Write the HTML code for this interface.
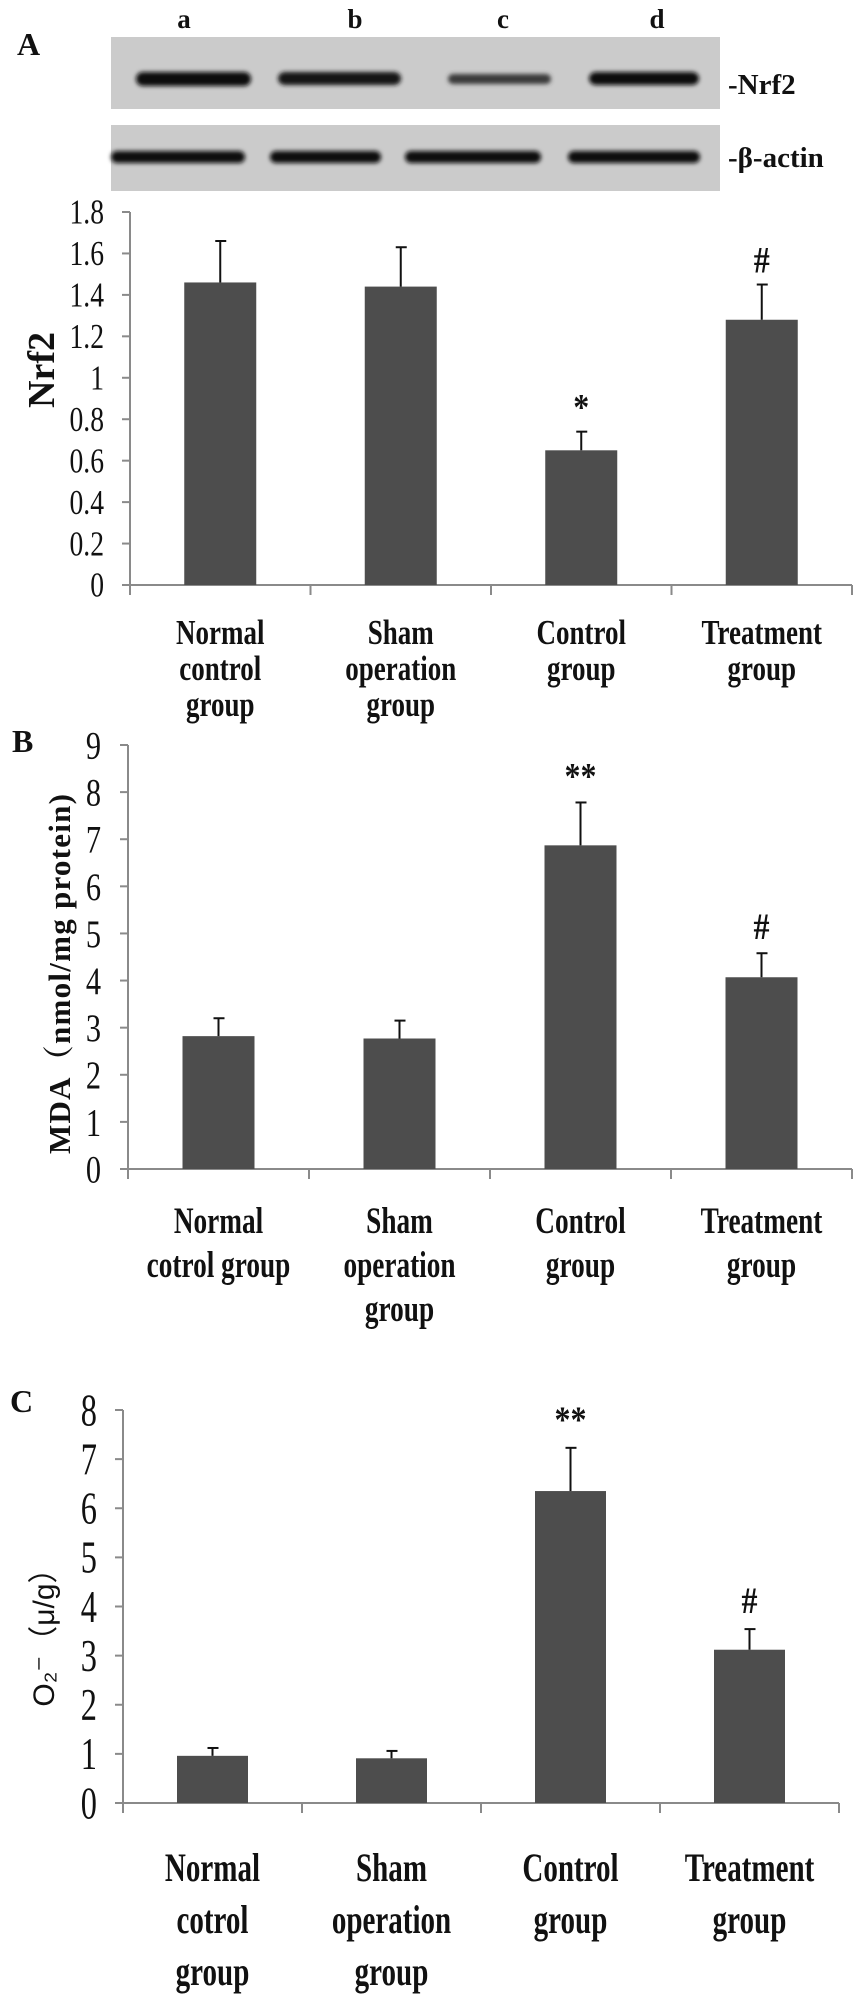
<!DOCTYPE html>
<html><head><meta charset="utf-8"><style>
html,body{margin:0;padding:0;background:#fff;}
svg{display:block;}
text{font-family:"Liberation Serif","Noto Serif CJK SC",serif;fill:#111;}
</style></head><body>
<svg id="fig" width="863" height="2004" viewBox="0 0 863 2004" xmlns="http://www.w3.org/2000/svg">
<defs><filter id="blur" x="-10%" y="-80%" width="120%" height="260%"><feGaussianBlur stdDeviation="2"/></filter></defs>
<g id="blot">
  <text x="17" y="55" font-size="32" font-weight="bold">A</text>
  <rect x="111" y="37" width="609" height="72" fill="#cbcbcb"/>
  <rect x="111" y="125" width="609" height="66" fill="#cbcbcb"/>
  <g filter="url(#blur)">
    <rect x="136" y="72" width="115" height="14" rx="7" fill="#111"/>
    <rect x="278" y="72" width="123" height="13" rx="7" fill="#151515"/>
    <rect x="448" y="74" width="103" height="10" rx="5" fill="#3a3a3a"/>
    <rect x="589" y="72" width="110" height="13" rx="7" fill="#111"/>
    <rect x="111" y="151" width="134" height="12" rx="6" fill="#0e0e0e"/>
    <rect x="270" y="151" width="111" height="12" rx="6" fill="#0e0e0e"/>
    <rect x="405" y="151" width="136" height="12" rx="6" fill="#0e0e0e"/>
    <rect x="568" y="151" width="132" height="12" rx="6" fill="#0e0e0e"/>
  </g>
  <text x="184" y="28" font-size="27" font-weight="bold" text-anchor="middle">a</text>
  <text x="355" y="28" font-size="27" font-weight="bold" text-anchor="middle">b</text>
  <text x="503" y="28" font-size="27" font-weight="bold" text-anchor="middle">c</text>
  <text x="657" y="28" font-size="27" font-weight="bold" text-anchor="middle">d</text>
  <text x="728" y="94" font-size="29" font-weight="bold">-Nrf2</text>
  <text x="728" y="167" font-size="29" font-weight="bold">-β-actin</text>
</g>
<text x="12" y="752" font-size="32" font-weight="bold">B</text>
<text x="10" y="1412" font-size="32" font-weight="bold">C</text>
</svg>
<script>
// Panel A: Nrf2
const aCats = [["Normal","control","group"],["Sham","operation","group"],["Control","group"],["Treatment","group"]];
const aVals = [1.46, 1.44, 0.65, 1.28];
const aErrs = [0.20, 0.19, 0.09, 0.17];
const aMarks = ["", "", "*", "#"];
const aTicks = ["0","0.2","0.4","0.6","0.8","1","1.2","1.4","1.6","1.8"];
// Panel B: MDA
const bCats = [["Normal","cotrol group"],["Sham","operation","group"],["Control","group"],["Treatment","group"]];
const bVals = [2.82, 2.77, 6.87, 4.07];
const bErrs = [0.38, 0.38, 0.91, 0.51];
const bMarks = ["", "", "**", "#"];
const bTicks = ["0","1","2","3","4","5","6","7","8","9"];
// Panel C: O2-
const cCats = [["Normal","cotrol","group"],["Sham","operation","group"],["Control","group"],["Treatment","group"]];
const cVals = [0.96, 0.91, 6.35, 3.12];
const cErrs = [0.16, 0.15, 0.88, 0.42];
const cMarks = ["", "", "**", "#"];
const cTicks = ["0","1","2","3","4","5","6","7","8"];

const NS = "http://www.w3.org/2000/svg";
const svg = document.getElementById("fig");
function mk(tag, attrs, parent){
  const e = document.createElementNS(NS, tag);
  for (const k in attrs) e.setAttribute(k, attrs[k]);
  (parent||svg).appendChild(e);
  return e;
}
function stxt(parent, x, y, fs, sx, sy, anchor, weight){
  return mk("text", {x:0, y:0, transform:"translate(" + x + "," + y + ") scale(" + sx + "," + sy + ")",
    "font-size":fs, "text-anchor":anchor, "font-weight":weight}, parent);
}
function chart(id, cats, vals, errs, marks, ticks, L){
  const g = mk("g", {});
  
  
  const tmax = parseFloat(ticks[ticks.length-1]);
  const y = v => L.y0 - v / tmax * (L.y0 - L.yTop);
  const cw = (L.xEnd - L.x0) / cats.length;
  const x = i => L.x0 + cw * (i + 0.5);
  const ya = mk("line", {x1:L.x0, y1:L.yTop, x2:L.x0, y2:L.y0+10, stroke:"#8a8a8a", "stroke-width":2}, g);
  
  
  const xa = mk("line", {x1:L.x0-8, y1:L.y0, x2:L.xEnd, y2:L.y0, stroke:"#8a8a8a", "stroke-width":2}, g);
  
  
  ticks.forEach((t) => {
    const v = parseFloat(t), ty = y(v);
    const tk = mk("line", {x1:L.x0-8, y1:ty, x2:L.x0, y2:ty, stroke:"#8a8a8a", "stroke-width":2}, g);
    
    
    const tl = stxt(g, L.tickX, ty + L.tickFs*0.34*L.tickSy, L.tickFs, L.tickSx, L.tickSy, "end", "normal");
    tl.textContent = t;
    
    
  });
  for (let i = 0; i <= cats.length; i++){
    const dx = L.x0 + cw * i;
    const d = mk("line", {x1:dx, y1:L.y0, x2:dx, y2:L.y0+10, stroke:"#8a8a8a", "stroke-width":2}, g);
    
    
  }
  vals.forEach((v, i) => {
    const cx = x(i), top = y(v), et = y(v + errs[i]);
    const b = mk("rect", {x:cx - L.bw/2, y:top, width:L.bw, height:L.y0 - top, fill:"#4d4d4d"}, g);
    
    
    const e1 = mk("line", {x1:cx, y1:top, x2:cx, y2:et, stroke:"#111", "stroke-width":2}, g);
    
    
    const e2 = mk("line", {x1:cx-5, y1:et, x2:cx+6, y2:et, stroke:"#111", "stroke-width":2}, g);
    
    
    if (marks[i]){
      const m = stxt(g, cx, et - L.markGap, 32, 1, 1.15, "middle", "bold");
      m.textContent = marks[i];
      
      
    }
    cats[i].forEach((line, j) => {
      const t = stxt(g, cx, L.labY + j*L.labDy, L.labFs, L.labSx, L.labSy, "middle", "bold");
      t.textContent = line;
      
      
    });
  });
  const yt = mk("text", {x:0, y:0, transform:"translate(" + L.titleX + "," + L.titleY + ") rotate(-90)", "font-size":L.titleFs, "font-weight":L.titleW, "text-anchor":"middle"}, g);
  if (L.titleLen) yt.setAttribute("textLength", L.titleLen);
  if (L.titleFont) yt.setAttribute("style", "font-family:" + L.titleFont);
  yt.textContent = L.title;
  
  
}
chart("nrf2", aCats, aVals, aErrs, aMarks, aTicks,
  {x0:130, xEnd:852, yTop:212, y0:585, bw:72, tickX:104, tickFs:30, tickSx:0.92, tickSy:1.15,
   labY:644, labDy:36, labFs:30, labSx:0.9, labSy:1.15, markGap:12,
   title:"Nrf2", titleX:54, titleY:370, titleFs:38, titleW:"bold"});
chart("mda", bCats, bVals, bErrs, bMarks, bTicks,
  {x0:128, xEnd:852, yTop:745, y0:1169, bw:72, tickX:101, tickFs:33, tickSx:0.92, tickSy:1.2,
   labY:1233, labDy:44, labFs:31, labSx:0.88, labSy:1.18, markGap:14,
   title:"MDA（nmol/mg protein)", titleX:70, titleY:974, titleFs:31, titleW:"bold", titleLen:360});
chart("o2", cCats, cVals, cErrs, cMarks, cTicks,
  {x0:123, xEnd:839, yTop:1410, y0:1803, bw:71, tickX:97, tickFs:36, tickSx:0.9, tickSy:1.25,
   labY:1881, labDy:52, labFs:33, labSx:0.88, labSy:1.22, markGap:16,
   title:"O₂⁻（μ/g）", titleX:54, titleY:1630, titleFs:30, titleW:"normal",
   titleFont:'"Liberation Sans","Noto Sans CJK SC",sans-serif'});
</script>
</body></html>
